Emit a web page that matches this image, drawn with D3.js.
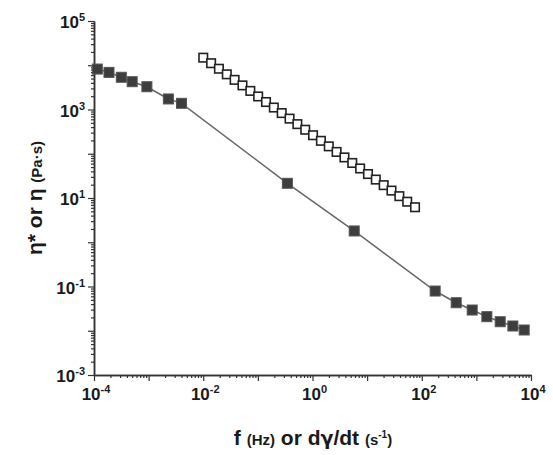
<!DOCTYPE html>
<html><head><meta charset="utf-8">
<script src="https://cdn.jsdelivr.net/npm/d3@7"></script>
<style>
html,body{margin:0;padding:0;background:#fff;}
text{font-family:"Liberation Sans",Arial,sans-serif;font-weight:bold;fill:#1a1a1a;}
</style></head>
<body><svg id="c" width="553" height="455"></svg>
<script>
// Filled squares: steady / oscillatory data (eta)
const filledX = [1.15e-4, 1.88e-4, 3.16e-4, 5.0e-4, 9.3e-4, 2.3e-3, 4.0e-3, 0.347, 5.8, 176, 427, 838, 1556, 2730, 4660, 7500];
const filledY = [8200, 6900, 5350, 4250, 3270, 1730, 1380, 21.5, 1.8, 0.079, 0.043, 0.0294, 0.0208, 0.016, 0.0128, 0.0104];
// Open squares: eta*
const openX = [0.0100, 0.01393, 0.01937, 0.02698, 0.0375, 0.05224, 0.07278, 0.1012, 0.1409, 0.1959, 0.2729, 0.3802, 0.5284, 0.7362, 1.023, 1.426, 1.986, 2.761, 3.846, 5.346, 7.447, 10.37, 14.42, 20.09, 27.93, 38.90, 54.20, 75.34];
const openY = [14825, 11120, 8337, 6237, 4677, 3508, 2630, 1972, 1476, 1107, 830, 622, 467, 349, 262, 196, 147, 110, 82.6, 61.9, 46.5, 34.8, 26.1, 19.5, 14.7, 11.0, 8.24, 6.18];
const xLabelExps = [-4, -2, 0, 2, 4];
const yLabelExps = [-3, -1, 1, 3, 5];
const xDomain = [1e-4, 1e4];
const yDomain = [1e-3, 1e5];

const svg = d3.select("#c");
const L = 94, R = 531, T = 21, B = 375;
const x = d3.scaleLog().domain(xDomain).range([L, R]);
const y = d3.scaleLog().domain(yDomain).range([B, T]);
const axisColor = "#333";

function styleAxis(g){
  g.select(".domain").attr("stroke", axisColor).attr("stroke-width", 1.5);
  g.selectAll(".tick line").attr("stroke", axisColor).attr("stroke-width", 1.2);
  g.selectAll(".tick text").remove();
}
const xMajor = d3.range(-4, 5).map(e => Math.pow(10, e));
const yMajor = d3.range(-3, 6).map(e => Math.pow(10, e));
const xMinor = x.ticks().filter(v => Math.abs(Math.log10(v) - Math.round(Math.log10(v))) > 1e-6);
const yMinor = y.ticks().filter(v => Math.abs(Math.log10(v) - Math.round(Math.log10(v))) > 1e-6);

svg.append("g").attr("transform", `translate(0,${B})`)
  .call(d3.axisBottom(x).tickValues(xMinor).tickSizeInner(3).tickSizeOuter(0)).call(styleAxis);
svg.append("g").attr("transform", `translate(0,${B})`)
  .call(d3.axisBottom(x).tickValues(xMajor).tickSizeInner(6).tickSizeOuter(0)).call(styleAxis);
svg.append("g").attr("transform", `translate(${L},0)`)
  .call(d3.axisLeft(y).tickValues(yMinor).tickSizeInner(3).tickSizeOuter(0)).call(styleAxis);
svg.append("g").attr("transform", `translate(${L},0)`)
  .call(d3.axisLeft(y).tickValues(yMajor).tickSizeInner(6).tickSizeOuter(0)).call(styleAxis);

// tick labels
xLabelExps.forEach(e => {
  const t = svg.append("text").attr("x", x(Math.pow(10, e)) + 2).attr("y", 400)
    .attr("text-anchor", "middle").attr("font-size", 17);
  t.append("tspan").text("10");
  t.append("tspan").attr("dy", -7).attr("font-size", 11).text(e < 0 ? "-" + (-e) : e);
});
yLabelExps.forEach(e => {
  const t = svg.append("text").attr("x", 85).attr("y", y(Math.pow(10, e)) + 7)
    .attr("text-anchor", "end").attr("font-size", 17);
  t.append("tspan").text("10");
  t.append("tspan").attr("dy", -7).attr("font-size", 11).text(e < 0 ? "-" + (-e) : e);
});

// axis titles
const xt = svg.append("text").attr("x", 313).attr("y", 445).attr("text-anchor", "middle").attr("font-size", 21);
xt.append("tspan").text("f ");
xt.append("tspan").attr("font-size", 15).text("(Hz)");
xt.append("tspan").text(" or d");
xt.append("tspan").style("font-family", "'DejaVu Sans',sans-serif").attr("font-size", 19).text("\u03b3");
xt.append("tspan").text("/dt ");
xt.append("tspan").attr("font-size", 15).text("(s");
xt.append("tspan").attr("font-size", 10).attr("dy", -7).text("-1");
xt.append("tspan").attr("font-size", 15).attr("dy", 7).text(")");

const yt = svg.append("text").attr("transform", `translate(42,${(T + B) / 2}) rotate(-90)`)
  .attr("text-anchor", "middle").attr("font-size", 21);
yt.append("tspan").text("\u03b7* or \u03b7 ");
yt.append("tspan").attr("font-size", 15).text("(Pa\u00b7s)");

// filled series line
const filled = filledX.map((v, i) => [v, filledY[i]]);
svg.append("path").datum(filled)
  .attr("d", d3.line().x(d => x(d[0])).y(d => y(d[1])))
  .attr("fill", "none").attr("stroke", "#666").attr("stroke-width", 1.5);
const fs = 10;
svg.selectAll(".fsq").data(filled).enter().append("rect")
  .attr("x", d => x(d[0]) - fs / 2).attr("y", d => y(d[1]) - fs / 2)
  .attr("width", fs).attr("height", fs)
  .attr("fill", "#3d3d3d").attr("stroke", "#555").attr("stroke-width", 1);

const open = openX.map((v, i) => [v, openY[i]]);
const os = 8.5;
svg.selectAll(".osq").data(open).enter().append("rect")
  .attr("x", d => x(d[0]) - os / 2).attr("y", d => y(d[1]) - os / 2)
  .attr("width", os).attr("height", os)
  .attr("fill", "#fff").attr("stroke", "#222").attr("stroke-width", 1.6);
</script></body></html>
